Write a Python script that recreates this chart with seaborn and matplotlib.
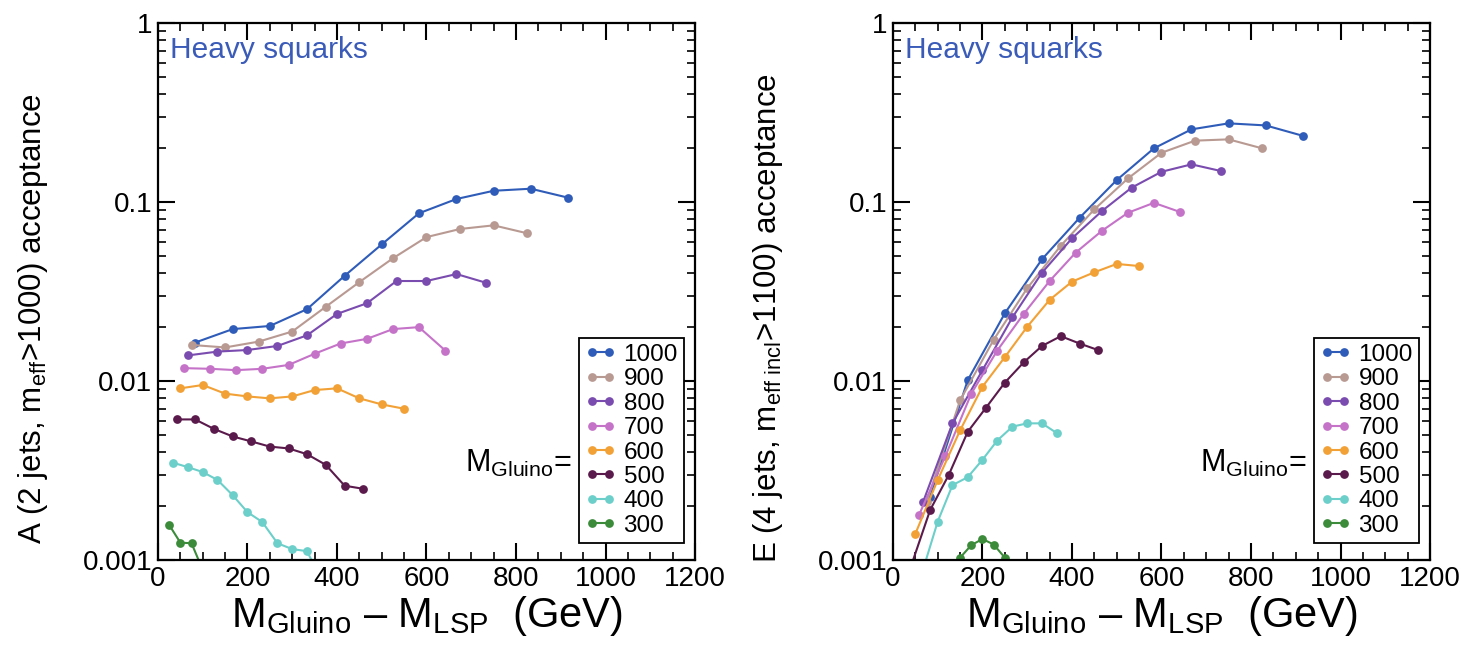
import numpy as np
import pandas as pd
import matplotlib
matplotlib.use("Agg")
import matplotlib.pyplot as plt
from matplotlib.ticker import MultipleLocator, LogLocator, FuncFormatter, NullFormatter
import seaborn as sns

# Gluino masses (GeV) and their colours
masses = ["1000", "900", "800", "700", "600", "500", "400", "300"]
colors = ["#2f5cb8", "#b99a93", "#7a4caf", "#c573c8", "#f2a136", "#5b1a4c", "#6ccfca", "#3b8b3b"]

# M_gluino - M_LSP values (GeV) for each gluino mass
dm = {
    "1000": [83, 167, 250, 333, 417, 500, 583, 667, 750, 833, 917],
    "900": [75, 150, 225, 300, 375, 450, 525, 600, 675, 750, 825],
    "800": [67, 133, 200, 267, 333, 400, 467, 533, 600, 667, 733],
    "700": [58, 117, 175, 233, 292, 350, 408, 467, 525, 583, 642],
    "600": [50, 100, 150, 200, 250, 300, 350, 400, 450, 500, 550],
    "500": [42, 83, 125, 167, 208, 250, 292, 333, 375, 417, 458],
}

# 2-jet channel acceptance, m_eff > 1000
acc_2j = {
    "1000": [0.0164, 0.0195, 0.0203, 0.0252, 0.0387, 0.058, 0.0865, 0.104, 0.1156, 0.1187, 0.1057],
    "900": [0.0159, 0.0154, 0.0166, 0.0189, 0.026, 0.0357, 0.0485, 0.0637, 0.0707, 0.0741, 0.0669],
    "800": [0.0139, 0.0146, 0.0149, 0.0157, 0.018, 0.0237, 0.0272, 0.0362, 0.0362, 0.0396, 0.0354],
    "700": [0.0118, 0.0117, 0.0115, 0.0117, 0.0123, 0.0142, 0.0162, 0.0172, 0.0195, 0.0200, 0.0148],
    "600": [0.0091, 0.0095, 0.0085, 0.0082, 0.0080, 0.0082, 0.0089, 0.0091, 0.0080, 0.0074, 0.0070],
    "500": [0.0061, 0.0061, 0.0054, 0.0049, 0.0046, 0.0043, 0.0042, 0.0039, 0.0034, 0.0026, 0.0025],
}
dm_2j_400 = [33, 67, 100, 133, 167, 200, 233, 267, 300, 333, 367]
acc_2j_400 = [0.0035, 0.0033, 0.0031, 0.0028, 0.0023, 0.00185, 0.00163, 0.00124, 0.00115, 0.00112, 0.00076]
dm_2j_300 = [25, 50, 75, 100]
acc_2j_300 = [0.00157, 0.00125, 0.00124, 0.00088]

# 4-jet channel acceptance, m_eff(incl) > 1100
acc_4j = {
    "1000": [0.00226, 0.0101, 0.0239, 0.0479, 0.0817, 0.1327, 0.1995, 0.2548, 0.2752, 0.268, 0.234],
    "900": [0.0021, 0.0078, 0.0170, 0.0330, 0.0570, 0.0910, 0.1355, 0.1885, 0.2203, 0.2240, 0.1995],
    "800": [0.0021, 0.0058, 0.0115, 0.0227, 0.0403, 0.0627, 0.0891, 0.1202, 0.1476, 0.1624, 0.149],
    "700": [0.00178, 0.0038, 0.0085, 0.0148, 0.0237, 0.0362, 0.0521, 0.0691, 0.0871, 0.099, 0.0879],
    "600": [0.0014, 0.0028, 0.0053, 0.0093, 0.0136, 0.0201, 0.0284, 0.0359, 0.0405, 0.0451, 0.0439],
    "500": [0.00095, 0.0019, 0.0030, 0.0052, 0.0071, 0.0098, 0.0127, 0.0157, 0.0178, 0.0162, 0.0149],
}
dm_4j_400 = [67, 100, 133, 167, 200, 233, 267, 300, 333, 367]
acc_4j_400 = [0.00088, 0.00164, 0.00262, 0.0029, 0.00363, 0.00465, 0.00556, 0.0058, 0.0058, 0.0051]
dm_4j_300 = [125, 150, 175, 200, 225, 250, 275]
acc_4j_300 = [0.00085, 0.00103, 0.00121, 0.00131, 0.00122, 0.00103, 0.00085]


def long_table(acc, x400, y400, x300, y300):
    rows = []
    for m in masses[:6]:
        for x, y in zip(dm[m], acc[m]):
            rows.append((m, x, y))
    for x, y in zip(x400, y400):
        rows.append(("400", x, y))
    for x, y in zip(x300, y300):
        rows.append(("300", x, y))
    return pd.DataFrame(rows, columns=["mass", "dm", "acc"])


df_2j = long_table(acc_2j, dm_2j_400, acc_2j_400, dm_2j_300, acc_2j_300)
df_4j = long_table(acc_4j, dm_4j_400, acc_4j_400, dm_4j_300, acc_4j_300)

sns.set_theme(style="ticks")
plt.rcParams["font.family"] = ["Liberation Sans", "DejaVu Sans"]
plt.rcParams["mathtext.fontset"] = "custom"
plt.rcParams["mathtext.rm"] = "Liberation Sans"
plt.rcParams["mathtext.it"] = "Liberation Sans:italic"
plt.rcParams["axes.linewidth"] = 1.6
for key in ["text.color", "axes.labelcolor", "xtick.color", "ytick.color", "axes.edgecolor"]:
    plt.rcParams[key] = "black"

palette = dict(zip(masses, colors))

fig = plt.figure(figsize=(14.75, 6.5), dpi=100)
ax_l = fig.add_axes([0.1071, 0.1385, 0.3641, 0.826])
ax_r = fig.add_axes([0.6054, 0.1385, 0.3641, 0.826])

panels = [
    (ax_l, df_2j, r"A (2 jets, m$_{\mathrm{eff}}$>1000) acceptance"),
    (ax_r, df_4j, r"E (4 jets, m$_{\mathrm{eff\ incl}}$>1100) acceptance"),
]

for ax, df, ylab in panels:
    sns.lineplot(data=df, x="dm", y="acc", hue="mass", hue_order=masses,
                 palette=palette, marker="o", markersize=6.3, markeredgewidth=0,
                 linewidth=1.5, sort=False, estimator=None, ax=ax)
    ax.set_yscale("log")
    ax.set_xlim(0, 1200)
    ax.set_ylim(0.001, 1)
    ax.xaxis.set_major_locator(MultipleLocator(200))
    ax.xaxis.set_minor_locator(MultipleLocator(50))
    ax.yaxis.set_major_locator(LogLocator(base=10, numticks=10))
    ax.yaxis.set_minor_locator(LogLocator(base=10, subs=np.arange(2, 10), numticks=10))
    ax.yaxis.set_minor_formatter(NullFormatter())
    ax.yaxis.set_major_formatter(FuncFormatter(lambda v, p: f"{v:g}"))
    ax.tick_params(which="both", direction="in", top=True, right=True, colors="black",
                   labelsize=20, pad=4)
    ax.tick_params(which="major", length=12, width=1.5)
    ax.tick_params(which="minor", length=6, width=1.2)

    ax.set_xlabel(r"M$_{\mathrm{Gluino}}$ – M$_{\mathrm{LSP}}$  (GeV)", fontsize=30, labelpad=2)
    ax.set_ylabel(ylab, fontsize=22.5)
    ax.yaxis.set_label_coords(-0.201, 0.45)

    ax.text(0.022, 0.975, "Heavy squarks", transform=ax.transAxes, ha="left", va="top",
            fontsize=21.5, color="#3a5bb8")

    handles, labels = ax.get_legend_handles_labels()
    leg = ax.legend(handles, labels, loc="lower right", bbox_to_anchor=(0.9795, 0.0317),
                    numpoints=2, fontsize=17.5, frameon=True, fancybox=False,
                    handlelength=1.3, handletextpad=0.3, labelspacing=0.1,
                    borderpad=0.25, borderaxespad=0.0)
    leg.get_frame().set_edgecolor("black")
    leg.get_frame().set_linewidth(1.3)
    leg.get_frame().set_alpha(1.0)

    ax.text(0.572, 0.18, r"M$_{\mathrm{Gluino}}$=", transform=ax.transAxes,
            ha="left", va="center", fontsize=22)

fig.savefig("out.png", dpi=100)
